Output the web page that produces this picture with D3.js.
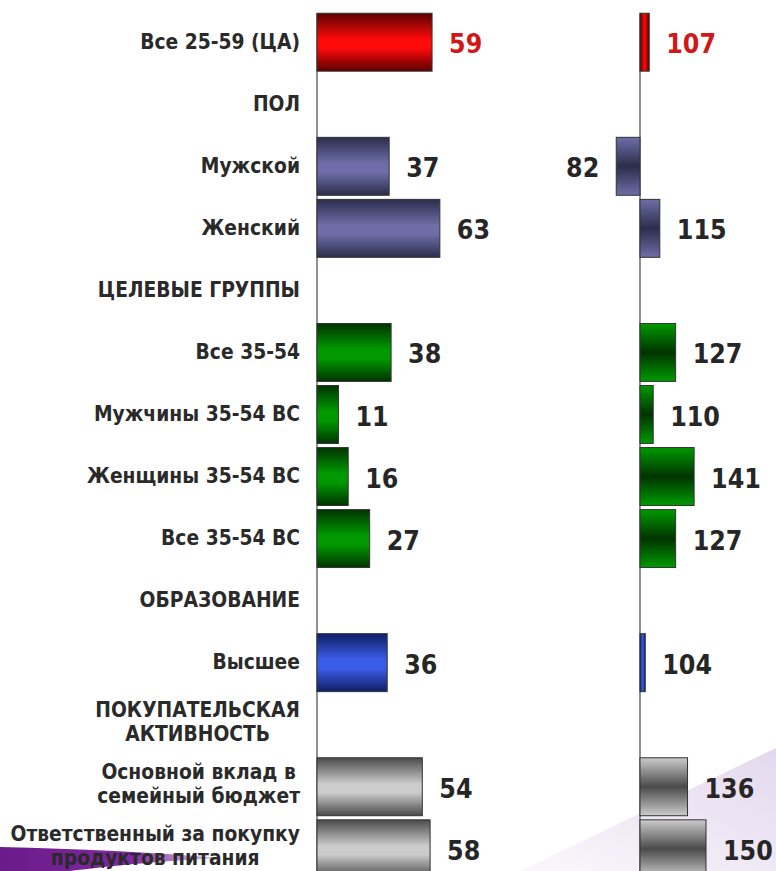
<!DOCTYPE html>
<html><head><meta charset="utf-8">
<script src="https://cdn.jsdelivr.net/npm/d3@7/dist/d3.min.js"></script>
<style>
html,body{margin:0;padding:0;background:#fff;}
svg{display:block;}
</style></head>
<body>
<script>
// ---- data ----
const categories = [
  "Все 25-59 (ЦА)", "ПОЛ", "Мужской", "Женский", "ЦЕЛЕВЫЕ ГРУППЫ",
  "Все 35-54", "Мужчины 35-54 ВС", "Женщины 35-54 ВС", "Все 35-54 ВС",
  "ОБРАЗОВАНИЕ", "Высшее", "ПОКУПАТЕЛЬСКАЯ|АКТИВНОСТЬ",
  "Основной вклад в|семейный бюджет", "Ответственный за покупку|продуктов питания"
];
const groups = ["ca","header","pol","pol","header","target","target","target","target","header","edu","header","buy","buy"];
const reachValues = [59, null, 37, 63, null, 38, 11, 16, 27, null, 36, null, 54, 58];
const indexValues = [107, null, 82, 115, null, 127, 110, 141, 127, null, 104, null, 136, 150];

const W = 776, H = 871;
const palette = {
  ca:     {dark:"#5a0000", light:"#ff0a0a"},
  pol:    {dark:"#2c2c4c", light:"#6e6ea8"},
  target: {dark:"#003300", light:"#009a00"},
  edu:    {dark:"#0f1f66", light:"#3b5ce8"},
  buy:    {dark:"#4a4a4a", light:"#cccccc"}
};

const svg = d3.select("body").append("svg").attr("width", W).attr("height", H);
const defs = svg.append("defs");

// decorative background shapes
const bgGrad = defs.append("linearGradient").attr("id","lav").attr("x1","0").attr("y1","1").attr("x2","1").attr("y2","0");
bgGrad.append("stop").attr("offset","0").attr("stop-color","#faf8fc");
bgGrad.append("stop").attr("offset","1").attr("stop-color","#e4d8ee");
svg.append("path").attr("d","M520,871 L776,748 L776,871 Z").attr("fill","url(#lav)");
const swGrad = defs.append("linearGradient").attr("id","sw").attr("x1","0").attr("y1","0").attr("x2","1").attr("y2","0");
swGrad.append("stop").attr("offset","0").attr("stop-color","#6a1a8a");
swGrad.append("stop").attr("offset","0.6").attr("stop-color","#7e2aa0");
swGrad.append("stop").attr("offset","1").attr("stop-color","#b890cc").attr("stop-opacity","0.5");
svg.append("path").attr("d","M0,847 C80,849 150,852 222,858 C160,861 110,866 70,871 L0,871 Z").attr("fill","url(#sw)");

// gradients
Object.entries(palette).forEach(([k,c])=>{
  const gl = defs.append("linearGradient").attr("id","gl-"+k).attr("x1","0").attr("y1","0").attr("x2","0").attr("y2","1");
  gl.append("stop").attr("offset","0").attr("stop-color",c.dark);
  gl.append("stop").attr("offset","0.45").attr("stop-color",c.light);
  gl.append("stop").attr("offset","0.6").attr("stop-color",c.light);
  gl.append("stop").attr("offset","1").attr("stop-color",c.dark);
  const gr = defs.append("linearGradient").attr("id","gr-"+k).attr("x1","0").attr("y1","0").attr("x2","0").attr("y2","1");
  gr.append("stop").attr("offset","0").attr("stop-color",c.light);
  gr.append("stop").attr("offset","0.5").attr("stop-color",c.dark);
  gr.append("stop").attr("offset","1").attr("stop-color",c.light);
  const gh = defs.append("linearGradient").attr("id","gh-"+k).attr("x1","0").attr("y1","0").attr("x2","1").attr("y2","0");
  gh.append("stop").attr("offset","0").attr("stop-color",c.dark);
  gh.append("stop").attr("offset","0.5").attr("stop-color",c.light);
  gh.append("stop").attr("offset","1").attr("stop-color",c.dark);
});

// scales
const y = d3.scaleBand().domain(d3.range(categories.length)).range([11, 11 + 62*categories.length]).paddingInner(0.05).paddingOuter(0.02);
const xL = d3.scaleLinear().domain([0, 100]).range([317, 512]);
const xR = d3.scaleLinear().domain([100, 150]).range([640, 706]);

const FONT = "'DejaVu Sans Condensed','DejaVu Sans',Verdana,sans-serif";

// category labels
const labelG = svg.append("g");
categories.forEach((c,i)=>{
  const lines = c.split("|");
  const cy = y(i) + y.bandwidth()/2 - (lines.length > 1 ? 2 : 0);
  const lh = 24;
  const t = labelG.append("text")
    .attr("font-family", FONT).attr("font-weight","bold").attr("font-size", 20.8)
    .attr("fill","#2a2a2a").attr("font-stretch","condensed");
  lines.forEach((l,j)=>{
    t.append("tspan").attr("x", 0).attr("y", cy + (j - (lines.length-1)/2)*lh).attr("dy","0.33em").text(l);
  });
  const tspans = t.selectAll("tspan").nodes();
  const widths = tspans.map(n=>n.getComputedTextLength());
  const maxW = d3.max(widths);
  tspans.forEach((n)=>{ d3.select(n).attr("x", 300 - maxW/2).attr("text-anchor","middle"); });
});

// baselines
svg.append("line").attr("x1", xL(0)).attr("x2", xL(0)).attr("y1", y(0)+1).attr("y2", H).attr("stroke","#555").attr("stroke-width",1.3);
svg.append("line").attr("x1", xR(100)).attr("x2", xR(100)).attr("y1", y(0)+1).attr("y2", H).attr("stroke","#555").attr("stroke-width",1.3);

const idx = d3.range(categories.length).filter(i=>reachValues[i]!=null);

// left bars
svg.append("g").selectAll("rect").data(idx).join("rect")
  .attr("x", xL(0)).attr("y", i=>y(i)+1).attr("width", i=>xL(reachValues[i])-xL(0)).attr("height", y.bandwidth()-1)
  .attr("fill", i=>`url(#gl-${groups[i]})`).attr("stroke","#333").attr("stroke-width",1);
svg.append("g").selectAll("text").data(idx).join("text")
  .attr("x", i=>xL(reachValues[i]) + 17).attr("y", i=>y(i)+y.bandwidth()/2+2).attr("dy","0.36em")
  .attr("font-family", FONT).attr("font-weight","bold").attr("font-size", 26.5).attr("font-stretch","condensed")
  .attr("fill", i=> groups[i]==="ca" ? "#d01818" : "#262626")
  .text(i=>reachValues[i]);

// right bars
svg.append("g").selectAll("rect").data(idx).join("rect")
  .attr("x", i=>Math.min(xR(100), xR(indexValues[i]))).attr("y", i=>y(i)+1)
  .attr("width", i=>Math.abs(xR(indexValues[i])-xR(100))).attr("height", y.bandwidth()-1)
  .attr("fill", i=> (groups[i]==="ca"||groups[i]==="edu") ? `url(#gh-${groups[i]})` : `url(#gr-${groups[i]})`)
  .attr("stroke","#333").attr("stroke-width",1);
svg.append("g").selectAll("text").data(idx).join("text")
  .attr("x", i=> indexValues[i] >= 100 ? xR(indexValues[i]) + 17 : xR(indexValues[i]) - 17)
  .attr("text-anchor", i=> indexValues[i] >= 100 ? "start" : "end")
  .attr("y", i=>y(i)+y.bandwidth()/2+2).attr("dy","0.36em")
  .attr("font-family", FONT).attr("font-weight","bold").attr("font-size", 26.5).attr("font-stretch","condensed")
  .attr("fill", i=> groups[i]==="ca" ? "#d01818" : "#262626")
  .text(i=>indexValues[i]);
</script>
</body></html>
